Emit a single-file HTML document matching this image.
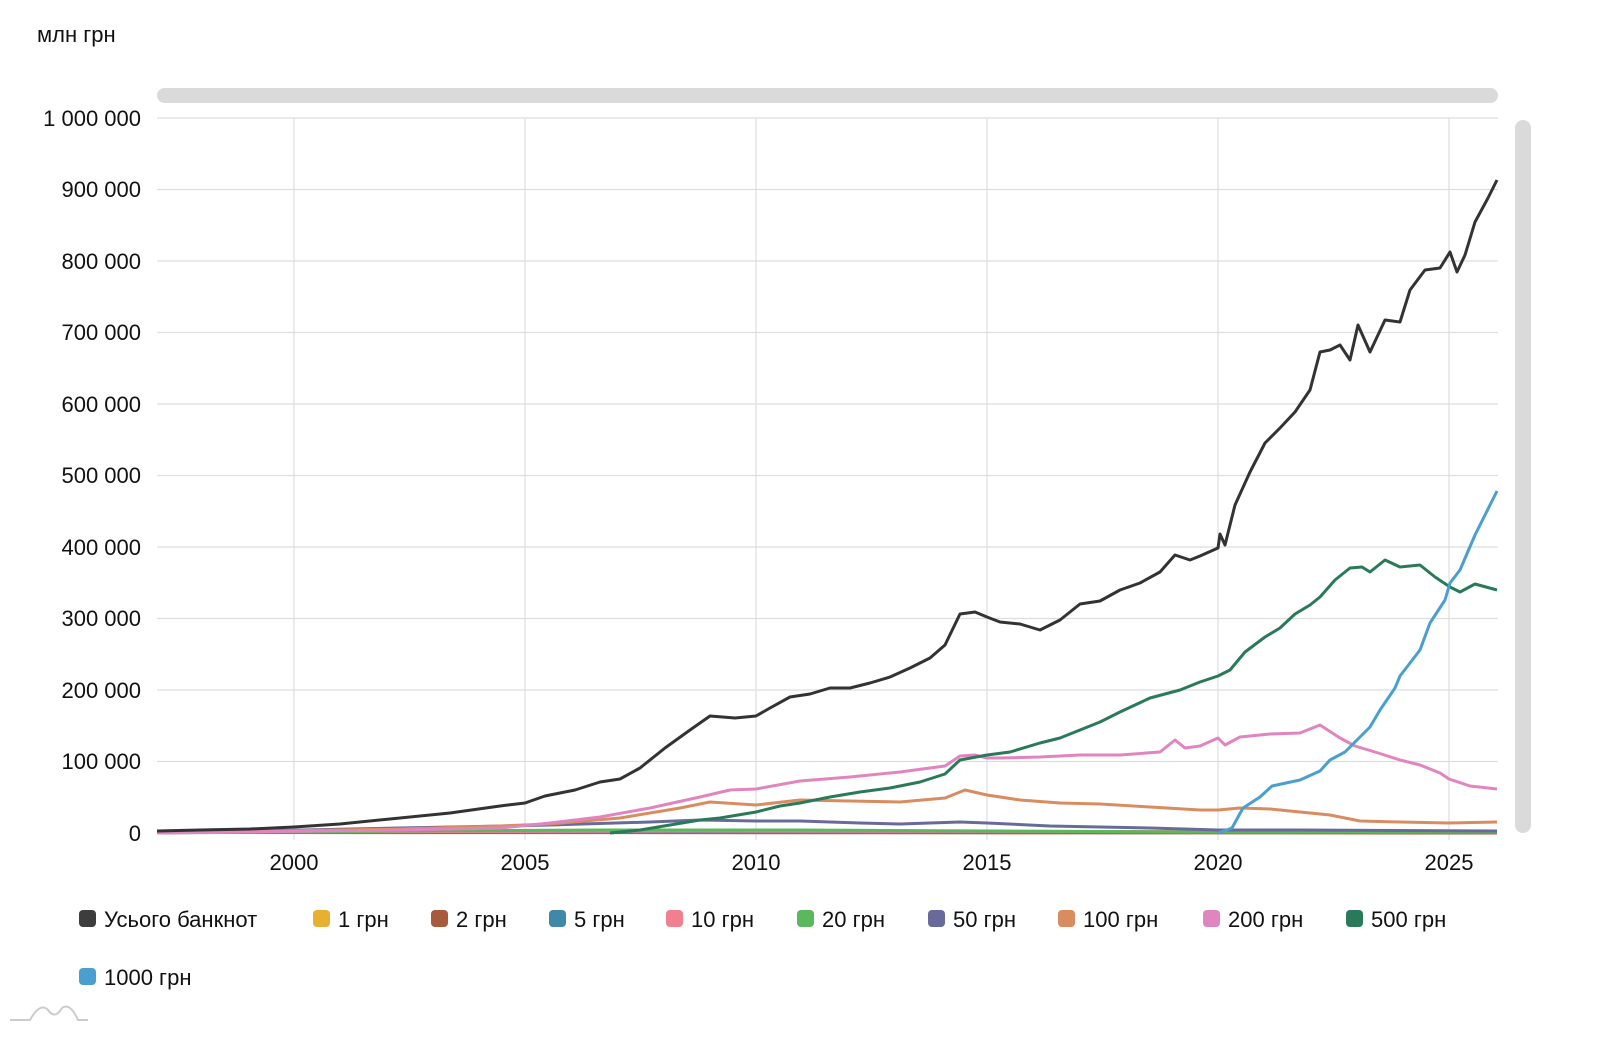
<!DOCTYPE html>
<html><head><meta charset="utf-8"><style>
body{margin:0;background:#fff;width:1600px;height:1050px;overflow:hidden;font-family:"Liberation Sans",Arial,sans-serif;color:#111}
svg{position:absolute;left:0;top:0}
</style></head><body>
<svg width="1600" height="1050" xmlns="http://www.w3.org/2000/svg" font-family="Liberation Sans, Arial, sans-serif">
<text x="37" y="42" font-size="22" fill="#111">млн грн</text>
<rect x="157" y="88" width="1341" height="15" rx="7.5" fill="#dadada"/>
<rect x="1515" y="120" width="16" height="713" rx="8" fill="#dadada"/>
<g stroke="#dedede" stroke-width="1.2">
<line x1="157" y1="118" x2="1498" y2="118"/><line x1="157" y1="189.5" x2="1498" y2="189.5"/><line x1="157" y1="261" x2="1498" y2="261"/><line x1="157" y1="332.5" x2="1498" y2="332.5"/><line x1="157" y1="404" x2="1498" y2="404"/><line x1="157" y1="475.5" x2="1498" y2="475.5"/><line x1="157" y1="547" x2="1498" y2="547"/><line x1="157" y1="618.5" x2="1498" y2="618.5"/><line x1="157" y1="690" x2="1498" y2="690"/><line x1="157" y1="761.5" x2="1498" y2="761.5"/>
<line x1="294" y1="118" x2="294" y2="840"/><line x1="525" y1="118" x2="525" y2="840"/><line x1="756" y1="118" x2="756" y2="840"/><line x1="987" y1="118" x2="987" y2="840"/><line x1="1218" y1="118" x2="1218" y2="840"/><line x1="1449" y1="118" x2="1449" y2="840"/>
</g>
<g font-size="22" fill="#111" text-anchor="end">
<text x="141" y="126">1 000 000</text><text x="141" y="197">900 000</text><text x="141" y="269">800 000</text><text x="141" y="340">700 000</text><text x="141" y="412">600 000</text><text x="141" y="483">500 000</text><text x="141" y="555">400 000</text><text x="141" y="626">300 000</text><text x="141" y="698">200 000</text><text x="141" y="769">100 000</text><text x="141" y="841">0</text>
</g>
<g font-size="22" fill="#111" text-anchor="middle">
<text x="294" y="870">2000</text><text x="525" y="870">2005</text><text x="756" y="870">2010</text><text x="987" y="870">2015</text><text x="1218" y="870">2020</text><text x="1449" y="870">2025</text>
</g>
<g fill="none" stroke-width="3" stroke-linejoin="round">
<polyline stroke="#e8b030" points="157,832.5 1497,832.5"/>
<polyline stroke="#a85a3c" points="157,832.5 1497,833"/>
<polyline stroke="#3f88a8" points="157,832 1497,832.5"/>
<polyline stroke="#f08090" points="157,832 700,831 1497,832"/>
<polyline stroke="#5cb85c" points="157,833 400,831 600,830 800,830 1000,831 1200,832 1497,832"/>
<polyline stroke="#6a6a9a" points="157,833 400,828 550,825 650,822 700,820 756,821 800,821 860,823 900,824 960,822 987,823 1050,826 1150,828 1218,830 1300,830 1497,831"/>
<polyline stroke="#d98c5f" points="157,833 400,829 500,826 550,824 620,818 680,808 710,802 756,805 800,800 850,801 900,802 945,798 965,790 987,795 1020,800 1060,803 1100,804 1150,807 1200,810 1218,810 1240,808 1270,809 1300,812 1330,815 1360,821 1400,822 1449,823 1497,822"/>
<polyline stroke="#e085c0" points="157,833 400,830 500,828 550,823 600,817 650,808 700,797 730,790 756,789 800,781 850,777 900,772 945,766 960,756 975,755 987,758 1000,758 1040,757 1080,755 1120,755 1160,752 1175,740 1185,748 1200,746 1218,738 1225,745 1240,737 1270,734 1300,733 1320,725 1340,738 1355,746 1375,752 1400,760 1420,765 1440,773 1449,779 1470,786 1497,789"/>
<polyline stroke="#2a7a5a" points="610,833 640,830 670,825 700,820 720,818 756,812 780,806 800,803 830,797 860,792 890,788 920,782 945,774 960,760 987,755 1010,752 1040,743 1060,738 1080,730 1100,722 1120,712 1150,698 1180,690 1200,682 1218,676 1230,670 1245,652 1265,637 1280,628 1295,614 1310,605 1320,597 1335,580 1350,568 1362,567 1370,572 1385,560 1400,567 1420,565 1435,577 1450,587 1460,592 1475,584 1497,590"/>
<polyline stroke="#4a9fd0" points="1218,833 1232,828 1243,808 1260,797 1272,786 1300,780 1320,771 1330,760 1345,752 1370,727 1380,710 1395,688 1400,676 1420,650 1430,623 1445,600 1450,583 1460,570 1475,535 1490,505 1497,491"/>
<polyline stroke="#333" points="157,831 200,830 250,829 294,827 340,824 400,818 450,813 500,806 525,803 545,796 575,790 600,782 620,779 640,768 665,748 690,730 710,716 735,718 756,716 770,708 790,697 810,694 830,688 850,688 870,683 890,677 910,668 930,658 945,645 960,614 975,612 987,617 1000,622 1020,624 1040,630 1060,620 1080,604 1100,601 1120,590 1140,583 1160,572 1175,555 1190,560 1200,556 1218,548 1220,534 1225,545 1235,505 1250,472 1265,443 1280,428 1295,412 1310,390 1320,352 1330,350 1340,345 1350,360 1358,325 1370,352 1385,320 1400,322 1410,290 1425,270 1440,268 1450,252 1457,272 1465,255 1475,222 1488,198 1497,180"/>
</g>
<g font-size="22" fill="#111">
<rect x="79" y="910" width="17" height="17" rx="4" fill="#3d3d3d"/><text x="104" y="927">Усього банкнот</text>
<rect x="313" y="910" width="17" height="17" rx="4" fill="#e8b030"/><text x="338" y="927">1 грн</text>
<rect x="431" y="910" width="17" height="17" rx="4" fill="#a85a3c"/><text x="456" y="927">2 грн</text>
<rect x="549" y="910" width="17" height="17" rx="4" fill="#3f88a8"/><text x="574" y="927">5 грн</text>
<rect x="666" y="910" width="17" height="17" rx="4" fill="#f08090"/><text x="691" y="927">10 грн</text>
<rect x="797" y="910" width="17" height="17" rx="4" fill="#5cb85c"/><text x="822" y="927">20 грн</text>
<rect x="928" y="910" width="17" height="17" rx="4" fill="#6a6a9a"/><text x="953" y="927">50 грн</text>
<rect x="1058" y="910" width="17" height="17" rx="4" fill="#d98c5f"/><text x="1083" y="927">100 грн</text>
<rect x="1203" y="910" width="17" height="17" rx="4" fill="#e085c0"/><text x="1228" y="927">200 грн</text>
<rect x="1346" y="910" width="17" height="17" rx="4" fill="#2a7a5a"/><text x="1371" y="927">500 грн</text>
<rect x="79" y="968" width="17" height="17" rx="4" fill="#4a9fd0"/><text x="104" y="985">1000 грн</text>
</g>
<g fill="none" stroke="#ccc" stroke-width="2">
<path d="M10,1020 L30,1020 Q40,1002 48,1010 Q55,1020 62,1008 Q70,1002 78,1020 L88,1020"/>
</g>
</svg>
</body></html>
